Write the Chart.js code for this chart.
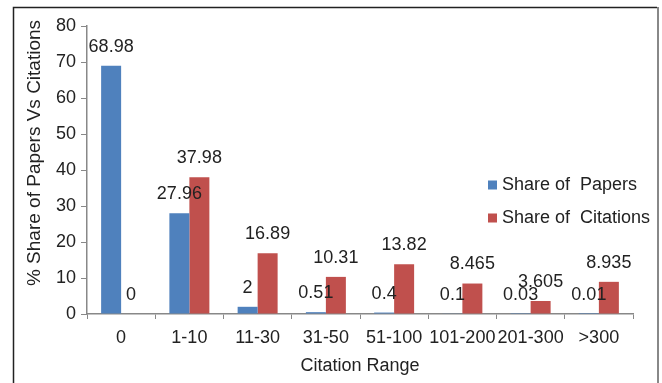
<!DOCTYPE html>
<html>
<head>
<meta charset="utf-8">
<script src="https://cdn.jsdelivr.net/npm/chart.js@4"></script>
<style>
  html, body { margin: 0; padding: 0; background: #fff; }
  #wrap { position: relative; width: 662px; height: 383px; }
</style>
</head>
<body>
<div id="wrap"><canvas id="grafico" width="662" height="383"></canvas></div>
<script>
// datos
const rangos = ['0', '1-10', '11-30', '31-50', '51-100', '101-200', '201-300', '>300'];
const sharePapers = [68.98, 27.96, 2, 0.51, 0.4, 0.1, 0.03, 0.01];
const shareCitations = [0, 37.98, 16.89, 10.31, 13.82, 8.465, 3.605, 8.935];
const yTicks = [0, 10, 20, 30, 40, 50, 60, 70, 80];
const yTitulo = '% Share of Papers Vs Citations';

const FONT = 'Liberation Sans, Arial, sans-serif';
const TXT = '#222';

// etiquetas sobre cada barra
const etiquetas = {
  id: 'etiquetas',
  afterDatasetsDraw(chart) {
    const ctx = chart.ctx;
    ctx.save();
    ctx.font = '18px ' + FONT;
    ctx.fillStyle = TXT;
    ctx.textAlign = 'center';
    ctx.textBaseline = 'middle';
    chart.data.datasets.forEach((ds, i) => {
      chart.getDatasetMeta(i).data.forEach((bar, j) => {
        ctx.fillText(String(ds.data[j]), bar.x, bar.y - 19);
      });
    });
    ctx.restore();
  }
};

// leyenda, titulo del eje y y marco
const leyendaMarco = {
  id: 'leyendaMarco',
  afterDraw(chart) {
    const ctx = chart.ctx;
    ctx.save();
    // marco
    ctx.lineWidth = 1.5;
    ctx.strokeStyle = '#222';
    ctx.beginPath();
    ctx.moveTo(13.5, 400);
    ctx.lineTo(13.5, 7.5);
    ctx.lineTo(657, 7.5);
    ctx.stroke();
    ctx.strokeStyle = '#888';
    ctx.lineWidth = 2;
    ctx.beginPath();
    ctx.moveTo(658, 7);
    ctx.lineTo(658, 400);
    ctx.stroke();
    // titulo eje y (un poco por encima del centro, como en la figura)
    ctx.save();
    ctx.translate(35, 153);
    ctx.rotate(-Math.PI / 2);
    ctx.font = '19px ' + FONT;
    ctx.fillStyle = TXT;
    ctx.textAlign = 'center';
    ctx.textBaseline = 'middle';
    ctx.fillText(yTitulo, 0, 0);
    ctx.restore();
    // leyenda
    ctx.font = '18px ' + FONT;
    ctx.textBaseline = 'middle';
    ctx.textAlign = 'left';
    chart.data.datasets.forEach((ds, i) => {
      const y = 185 + i * 33;
      ctx.fillStyle = ds.backgroundColor;
      ctx.fillRect(488, y - 4.5, 9, 9);
      ctx.fillStyle = TXT;
      ctx.fillText(ds.label, 502, y);
    });
    ctx.restore();
  }
};

new Chart(document.getElementById('grafico').getContext('2d'), {
  type: 'bar',
  data: {
    labels: rangos,
    datasets: [{
      label: 'Share of  Papers',
      backgroundColor: '#4F81BD',
      data: sharePapers
    }, {
      label: 'Share of  Citations',
      backgroundColor: '#C0504D',
      data: shareCitations
    }]
  },
  options: {
    responsive: false,
    animation: false,
    devicePixelRatio: 1,
    categoryPercentage: 0.586,
    barPercentage: 1,
    layout: { padding: { left: 0, top: 26, right: 29, bottom: 0 } },
    plugins: {
      legend: { display: false },
      tooltip: { enabled: false }
    },
    scales: {
      x: {
        afterFit(s) { s.height = 69; },
        grid: { drawOnChartArea: false, drawTicks: true, tickLength: 5, offset: true, color: '#888' },
        border: { color: '#888', width: 1.5 },
        ticks: { color: TXT, font: { family: FONT, size: 18 }, padding: 8, maxRotation: 0, autoSkip: false },
        title: { display: true, text: 'Citation Range', color: TXT, font: { family: FONT, size: 18 }, padding: { top: 0, bottom: 6 } }
      },
      y: {
        min: 0,
        max: 80,
        afterFit(s) { s.width = 87; },
        afterBuildTicks(s) { s.ticks = yTicks.map(v => ({ value: v })); },
        grid: { drawOnChartArea: false, drawTicks: true, tickLength: 6, color: '#888' },
        border: { color: '#888', width: 1.5 },
        ticks: { color: TXT, font: { family: FONT, size: 18 }, padding: 5 },
        title: { display: false }
      }
    }
  },
  plugins: [etiquetas, leyendaMarco]
});
</script>
</body>
</html>
